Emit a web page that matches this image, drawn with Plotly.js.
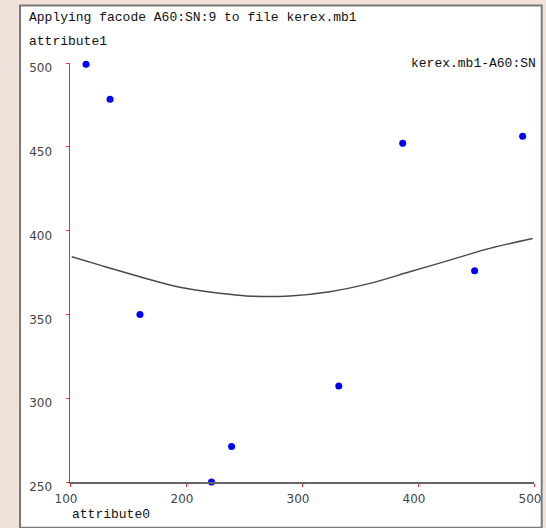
<!DOCTYPE html>
<html>
<head>
<meta charset="utf-8">
<script src="https://cdn.plot.ly/plotly-3.0.1.min.js"></script>
<style>
html,body{margin:0;padding:0;background:#f1e3db;}
#chart{width:546px;height:528px;}
</style>
</head>
<body>
<div id="chart"></div>
<script>
// Scatter points (attribute0, attribute1)
const pointsX = [113.8, 134.5, 160.3, 222.0, 239.3, 331.7, 386.8, 448.8, 490.2];
const pointsY = [499.2, 478.3, 350.0, 250.0, 271.2, 307.3, 452.1, 376.0, 456.3];

// Fitted curve
const curveX = [101.5, 125.8, 160.3, 194.7, 229.2, 252.2, 289.5, 324.0, 358.4, 392.9, 427.4, 461.8, 498.8];
const curveY = [384.4, 379.4, 372.5, 366.2, 362.6, 361.0, 361.0, 363.5, 368.5, 375.4, 382.4, 389.4, 395.3];

const xTicks = [100, 200, 300, 400, 500];
const yTicks = [250, 300, 350, 400, 450, 500];

const titleText = "Applying facode A60:SN:9 to file kerex.mb1";
const xLabel = "attribute0";
const yLabel = "attribute1";
const seriesName = "kerex.mb1-A60:SN";

const mono = "'Courier New', 'Liberation Mono', monospace";
const sans = "'DejaVu Sans', Verdana, sans-serif";

const traces = [
  {x: curveX, y: curveY, mode: 'lines', type: 'scatter',
   line: {color: '#4a4a4a', width: 1.5, shape: 'spline'}, hoverinfo: 'skip', showlegend: false},
  {x: pointsX, y: pointsY, mode: 'markers', type: 'scatter', name: seriesName,
   marker: {color: '#0000ff', size: 7}, cliponaxis: false, showlegend: false}
];

const layout = {
  width: 546, height: 528,
  margin: {l: 70, r: 11.7, t: 62.7, b: 45.7, pad: 0},
  paper_bgcolor: 'rgba(0,0,0,0)',
  plot_bgcolor: '#ffffff',
  showlegend: false,
  xaxis: {
    range: [100, 500], tickvals: xTicks, ticktext: xTicks.map(String),
    showgrid: false, zeroline: false, showline: true, linecolor: '#666', linewidth: 1.5,
    ticks: 'outside', ticklen: 3, tickcolor: '#ff3030', tickwidth: 1,
    tickfont: {family: sans, size: 12, color: '#444'},
    ticklabelstandoff: 2, ticklabelshift: -4
  },
  yaxis: {
    range: [250, 500], tickvals: yTicks, ticktext: yTicks.map(String),
    showgrid: false, zeroline: false, showline: true, linecolor: '#666', linewidth: 1.5,
    ticks: 'outside', ticklen: 3, tickcolor: '#ff3030', tickwidth: 1,
    tickfont: {family: sans, size: 12, color: '#444'},
    ticklabelstandoff: 11, ticklabelshift: 5
  },
  shapes: [
    {type: 'rect', xref: 'paper', yref: 'paper', layer: 'below',
     x0: -0.1077, x1: 1.0166, y0: -0.1089, y1: 1.1375,
     fillcolor: '#ffffff', line: {color: '#7a7a7a', width: 2}}
  ],
  annotations: [
    {text: titleText, xref: 'paper', yref: 'paper', x: -0.0926, y: 1.109,
     xanchor: 'left', yanchor: 'middle', showarrow: false,
     font: {family: mono, size: 13, color: '#111'}},
    {text: yLabel, xref: 'paper', yref: 'paper', x: -0.0926, y: 1.052,
     xanchor: 'left', yanchor: 'middle', showarrow: false,
     font: {family: mono, size: 13, color: '#111'}},
    {text: xLabel, xref: 'paper', yref: 'paper', x: 0.0, y: -0.0777,
     xanchor: 'left', yanchor: 'middle', showarrow: false,
     font: {family: mono, size: 13, color: '#111'}},
    {text: seriesName, xref: 'paper', yref: 'paper', x: 1.008, y: 0.9997,
     xanchor: 'right', yanchor: 'middle', showarrow: false,
     font: {family: mono, size: 13, color: '#111'}}
  ]
};

Plotly.newPlot('chart', traces, layout, {displayModeBar: false, staticPlot: true});
</script>
</body>
</html>
